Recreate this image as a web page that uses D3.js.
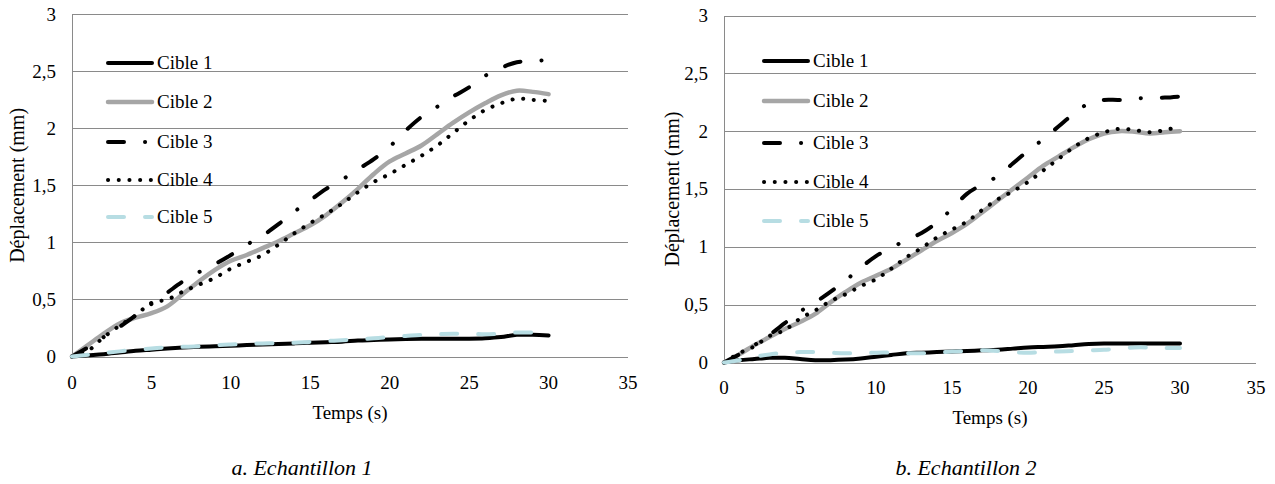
<!DOCTYPE html>
<html>
<head>
<meta charset="utf-8">
<script src="https://cdn.jsdelivr.net/npm/d3@7"></script>
<style>
  html, body { margin: 0; padding: 0; background: #ffffff; }
  svg { display: block; }
</style>
</head>
<body>
<svg id="chart" width="1275" height="484"></svg>
<script>
// ---------- data ----------
const time = [0,1,2,3,4,5,6,7,8,9,10,11,12,13,14,15,16,17,18,19,20,21,22,23,24,25,26,27,28,29,30];
const seriesNames = ["Cible 1", "Cible 2", "Cible 3", "Cible 4", "Cible 5"];
const xTicks = [0, 5, 10, 15, 20, 25, 30, 35];
const yTicks = [0, 0.5, 1, 1.5, 2, 2.5, 3];
const yTickLabels = ["0", "0,5", "1", "1,5", "2", "2,5", "3"];
const captions = ["a. Echantillon 1", "b. Echantillon 2"];
const xTitle = "Temps (s)";
const yTitle = "Déplacement (mm)";

// Echantillon 1
const e1Cible1 = [0,0.01,0.02,0.035,0.05,0.06,0.07,0.078,0.085,0.09,0.095,0.1,0.105,0.11,0.115,0.12,0.125,0.13,0.14,0.145,0.15,0.153,0.155,0.155,0.155,0.156,0.16,0.17,0.19,0.19,0.185];
const e1Cible2 = [0,0.1,0.2,0.29,0.34,0.38,0.44,0.55,0.66,0.76,0.84,0.89,0.95,1.01,1.08,1.15,1.24,1.35,1.47,1.6,1.71,1.78,1.85,1.95,2.05,2.14,2.22,2.29,2.33,2.32,2.30];
const e1Cible3 = [0,0.08,0.17,0.26,0.36,0.46,0.56,0.66,0.74,0.81,0.89,0.98,1.06,1.16,1.27,1.37,1.47,1.55,1.64,1.73,1.84,1.98,2.10,2.19,2.28,2.36,2.46,2.53,2.58,2.59,2.60];
const e1Cible4 = [0,0.05,0.17,0.27,0.36,0.47,0.50,0.57,0.63,0.69,0.77,0.83,0.89,0.98,1.08,1.17,1.25,1.34,1.44,1.53,1.60,1.68,1.76,1.85,1.96,2.07,2.16,2.22,2.26,2.25,2.24];
const e1Cible5 = [0,0.015,0.03,0.045,0.06,0.07,0.08,0.085,0.09,0.1,0.105,0.11,0.115,0.118,0.12,0.128,0.135,0.143,0.15,0.16,0.17,0.18,0.19,0.195,0.2,0.2,0.195,0.2,0.21,0.21,0.205];

// Echantillon 2
const e2Cible1 = [0,0.02,0.03,0.04,0.04,0.03,0.02,0.02,0.025,0.035,0.05,0.065,0.08,0.085,0.09,0.095,0.1,0.105,0.11,0.12,0.13,0.135,0.14,0.15,0.16,0.165,0.165,0.165,0.165,0.165,0.165];
const e2Cible2 = [0,0.07,0.15,0.22,0.29,0.35,0.42,0.52,0.61,0.69,0.75,0.81,0.89,0.97,1.05,1.12,1.2,1.3,1.4,1.5,1.6,1.7,1.78,1.86,1.93,1.98,2.0,1.995,1.98,1.99,2.0];
const e2Cible3 = [0,0.07,0.15,0.24,0.34,0.44,0.52,0.61,0.71,0.82,0.92,0.99,1.06,1.12,1.21,1.33,1.46,1.54,1.61,1.72,1.83,1.93,2.04,2.15,2.24,2.27,2.27,2.28,2.29,2.29,2.30];
const e2Cible4 = [0,0.08,0.14,0.23,0.28,0.38,0.45,0.53,0.59,0.66,0.72,0.81,0.91,0.99,1.08,1.15,1.22,1.32,1.41,1.48,1.56,1.66,1.76,1.86,1.94,1.99,2.02,2.01,1.99,2.01,2.04];
const e2Cible5 = [0,0.02,0.05,0.07,0.085,0.09,0.09,0.085,0.08,0.08,0.085,0.085,0.08,0.08,0.085,0.095,0.1,0.105,0.1,0.09,0.085,0.09,0.095,0.1,0.105,0.11,0.12,0.13,0.13,0.125,0.125];

// ---------- styles ----------
const FONT = "'Liberation Serif', 'Times New Roman', Times, serif";
const styles = [
  { color: "#000000", width: 4,   dash: null },
  { color: "#a6a6a6", width: 4.5, dash: null },
  { color: "#000000", width: 4,   dash: "16,21,0.1,21" },
  { color: "#000000", width: 4,   dash: "0.1,10.6" },
  { color: "#b7dde3", width: 4,   dash: "16,21" }
];

const panels = [
  { series: [e1Cible1, e1Cible2, e1Cible3, e1Cible4, e1Cible5],
    x0: 72, x1: 628, yTop: 14.3, yBot: 356.5,
    tickLabelRight: 56, xLabelY: 383, xTitleY: 413, yTitleX: 17,
    captionX: 302, captionY: 468,
    legX0: 106, legX1: 154, legTextX: 157, legY: [63, 102, 142, 180, 217] },
  { series: [e2Cible1, e2Cible2, e2Cible3, e2Cible4, e2Cible5],
    x0: 724, x1: 1256, yTop: 15.5, yBot: 362.5,
    tickLabelRight: 708, xLabelY: 388, xTitleY: 418, yTitleX: 672,
    captionX: 966, captionY: 468,
    legX0: 762, legX1: 810, legTextX: 813, legY: [61, 101, 143, 182, 221] }
];

const svg = d3.select("#chart");
const gridColor = "#8a8a8a";

function txt(sel, size) {
  return sel.style("font-family", FONT)
            .style("font-size", size + "px").attr("fill", "#000");
}

panels.forEach((p, pi) => {
  const x = d3.scaleLinear().domain([0, 35]).range([p.x0, p.x1]);
  const y = d3.scaleLinear().domain([0, 3]).range([p.yBot, p.yTop]);
  const g = svg.append("g");

  // gridlines
  g.append("g").selectAll("line").data(yTicks).join("line")
    .attr("x1", p.x0).attr("x2", p.x1)
    .attr("y1", d => Math.round(y(d)) + 0.5).attr("y2", d => Math.round(y(d)) + 0.5)
    .attr("stroke", gridColor).attr("stroke-width", 1);

  // y axis line
  g.append("line")
    .attr("x1", p.x0 + 0.5).attr("x2", p.x0 + 0.5)
    .attr("y1", Math.round(y(3)) + 0.5).attr("y2", Math.round(y(0)) + 0.5)
    .attr("stroke", gridColor).attr("stroke-width", 1);

  // y tick labels
  txt(g.append("g").selectAll("text").data(yTicks).join("text")
    .attr("x", p.tickLabelRight).attr("y", d => y(d))
    .attr("dy", "0.34em")
    .attr("text-anchor", "end"), 19)
    .text((d, i) => yTickLabels[i]);

  // x tick labels
  txt(g.append("g").selectAll("text").data(xTicks).join("text")
    .attr("x", d => x(d)).attr("y", p.xLabelY)
    .attr("dy", "0.34em")
    .attr("text-anchor", "middle"), 19)
    .text(d => d);

  // axis titles
  txt(g.append("text")
    .attr("x", (p.x0 + p.x1) / 2).attr("y", p.xTitleY).attr("dy", "0.34em")
    .attr("text-anchor", "middle"), 19)
    .text(xTitle);
  txt(g.append("text")
    .attr("transform", `translate(${p.yTitleX},${(p.yTop + p.yBot) / 2}) rotate(-90)`)
    .attr("dy", "0.34em")
    .attr("text-anchor", "middle"), 20)
    .text(yTitle);

  // caption
  txt(g.append("text")
    .attr("x", p.captionX).attr("y", p.captionY).attr("dy", "0.34em")
    .attr("text-anchor", "middle"), 22)
    .style("font-style", "italic")
    .text(captions[pi]);

  // series lines
  const line = d3.line()
    .x((d, i) => x(time[i]))
    .y(d => y(d))
    .curve(d3.curveCatmullRom.alpha(0.5));

  p.series.forEach((vals, si) => {
    const st = styles[si];
    const path = g.append("path")
      .datum(vals)
      .attr("d", line)
      .attr("fill", "none")
      .attr("stroke", st.color)
      .attr("stroke-width", st.width)
      .attr("stroke-linecap", "round")
      .attr("stroke-linejoin", "round");
    if (st.dash) path.attr("stroke-dasharray", st.dash);
  });

  // legend
  const leg = g.append("g");
  seriesNames.forEach((name, si) => {
    const st = styles[si];
    const ly = p.legY[si];
    const l = leg.append("line")
      .attr("x1", p.legX0 + 2).attr("x2", p.legX1 - 2)
      .attr("y1", ly).attr("y2", ly)
      .attr("stroke", st.color).attr("stroke-width", st.width)
      .attr("stroke-linecap", "round");
    if (st.dash) l.attr("stroke-dasharray", st.dash);
    txt(leg.append("text")
      .attr("x", p.legTextX).attr("y", ly).attr("dy", "0.34em"), 19)
      .text(name);
  });
});
</script>
</body>
</html>
